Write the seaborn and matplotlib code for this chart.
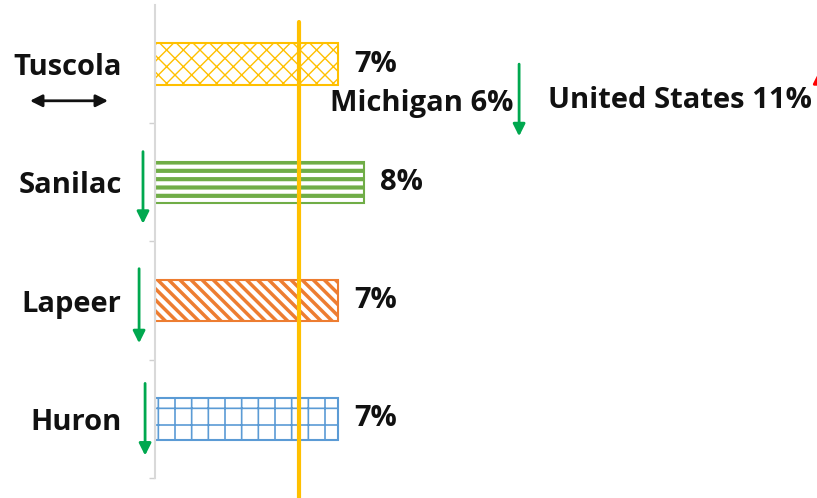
import matplotlib
matplotlib.use('Agg')
import matplotlib.pyplot as plt
import seaborn as sns

sns.set_theme(style='white')
plt.rcParams['font.family'] = ['Open Sans', 'DejaVu Sans']

# values
counties = ['Tuscola', 'Sanilac', 'Lapeer', 'Huron']
rates = [7, 8, 7, 7]
michigan_rate = 5.5
michigan_label = 'Michigan 6%'
us_label = 'United States 11%'

bar_colors = ['#FFC000', '#70AD47', '#ED7D31', '#5B9BD5']
hatches = ['xx', '--', '\\\\\\', '+']
hatch_widths = [1.0, 3.0, 2.5, 1.2]
green = '#00A84F'

fig = plt.figure(figsize=(8.17, 4.98), dpi=100)
ax = fig.add_axes([155 / 817, 20 / 498, 645 / 817, 473 / 498])

sns.barplot(x=rates, y=counties, orient='h', color='white', width=0.35, ax=ax)
for patch, c, h, hw in zip(ax.patches, bar_colors, hatches, hatch_widths):
    patch.set_facecolor('white')
    patch.set_edgecolor(c)
    patch.set_linewidth(1.5)
    patch.set_hatch(h)
    if hasattr(patch, 'set_hatch_linewidth'):
        patch.set_hatch_linewidth(hw)

ax.bar_label(ax.containers[0], labels=[f'{v:.0f}%' for v in rates],
             padding=12, fontsize=21, fontweight='bold', color='#111111')

ax.set_xlim(0, 645 / 26.1)
ax.set_ylim(3.5, -0.5)
ax.set_xlabel('')
ax.set_ylabel('')
ax.set_xticks([])
ax.tick_params(axis='y', length=0, pad=24, labelsize=21)
for lab in ax.get_yticklabels():
    lab.set_fontweight('bold')
    lab.set_color('#111111')
ax.set_yticks([0.5, 1.5, 2.5, 3.5], minor=True)
ax.tick_params(axis='y', which='minor', length=4, width=1, color='#D0D0D0', left=True)

for s in ['top', 'right', 'bottom']:
    ax.spines[s].set_visible(False)
ax.spines['left'].set_color('#D9D9D9')
ax.spines['left'].set_linewidth(1.5)

# Michigan reference line
ax.axvline(michigan_rate, ymin=-0.042, ymax=0.964, color='#FFC000', lw=3, clip_on=False, zorder=5)

ax.text(6.7, 0.33, michigan_label, fontsize=21, fontweight='bold', color='#111111', va='center', ha='left')
ax.text(15.05, 0.31, us_label, fontsize=21, fontweight='bold', color='#111111', va='center', ha='left')

# trend arrows
def arrow(x0, y0, x1, y1, color, style='-|>'):
    ax.annotate('', xy=(x1, y1), xytext=(x0, y0), annotation_clip=False,
                arrowprops=dict(arrowstyle=style, color=color, lw=2,
                                mutation_scale=18, shrinkA=0, shrinkB=0))

arrow(-4.79, 0.31, -1.80, 0.31, '#111111', style='<|-|>')
arrow(-0.46, 0.74, -0.46, 1.35, green)
arrow(-0.61, 1.73, -0.61, 2.36, green)
arrow(-0.38, 2.70, -0.38, 3.31, green)
arrow(13.95, 0.0, 13.95, 0.61, green)
arrow(25.45, 0.2, 25.45, 0.06, '#FF0000')

fig.savefig('out.png', dpi=100)
